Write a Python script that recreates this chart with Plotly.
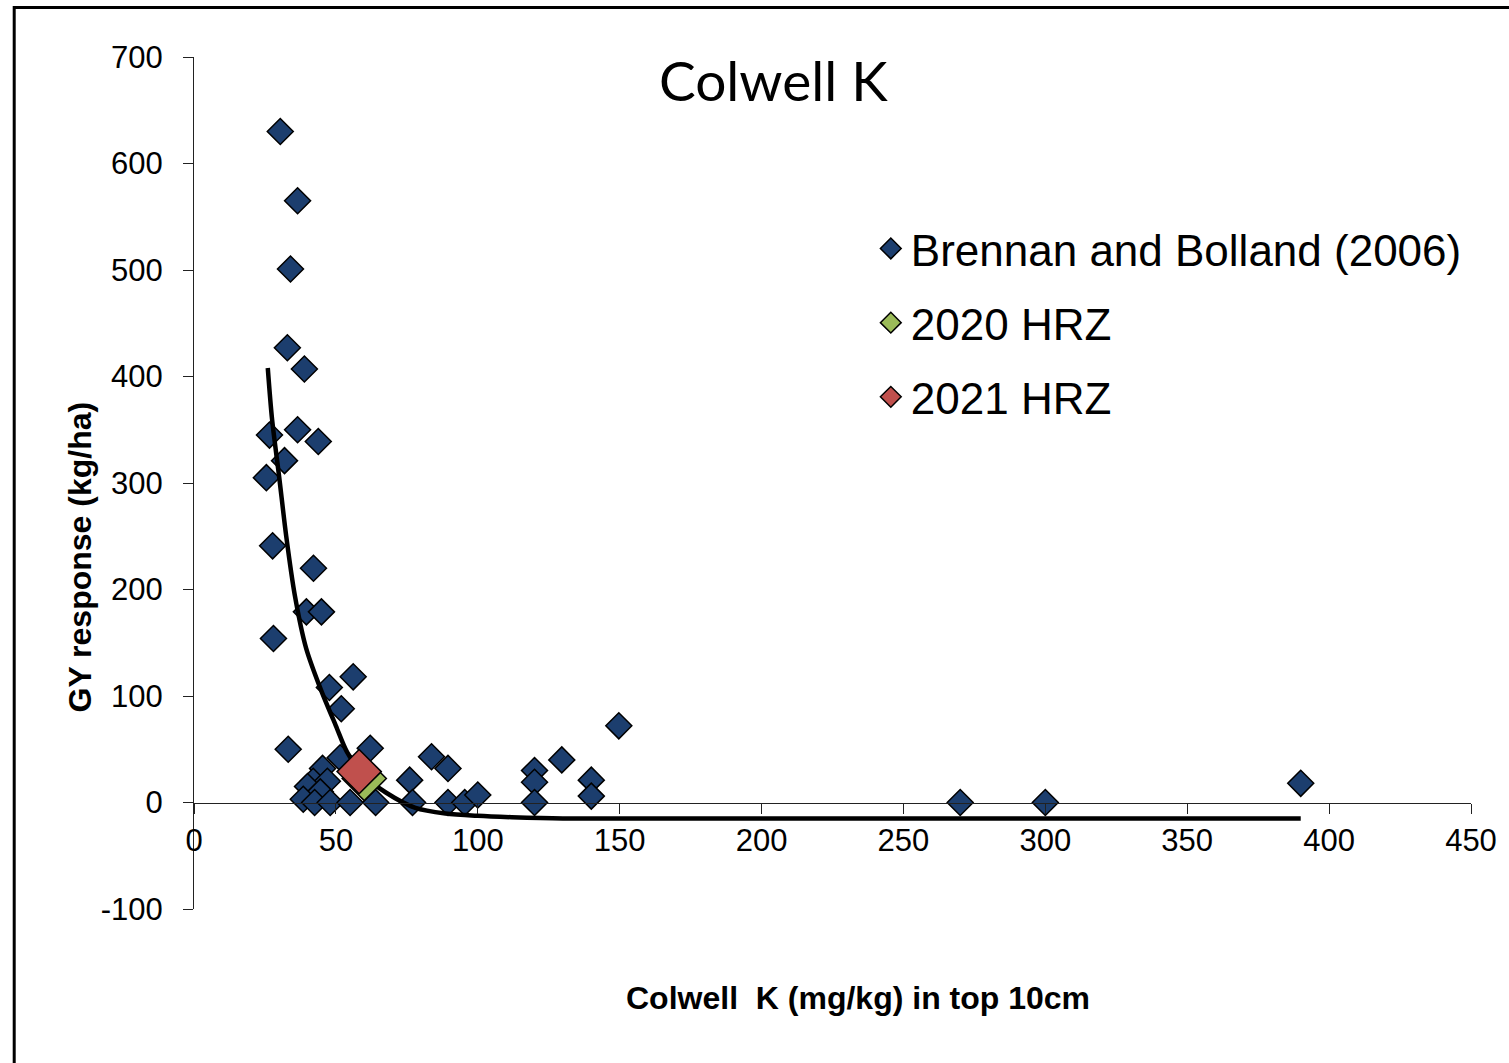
import plotly.graph_objects as go

# Brennan and Bolland (2006) trial responses
colwell_k = [30.4, 36.5, 34.0, 32.9, 38.9, 26.6, 36.5, 43.8, 31.9, 25.5, 27.7, 42.1,
             39.6, 44.9, 28.0, 47.7, 56.1, 51.9, 33.2, 62.1, 51.5, 45.3, 42.0, 47.0,
             40.0, 44.5, 38.5, 42.5, 48.0, 55.0, 64.0, 76.0, 77.0, 83.7, 89.5, 89.5,
             95.4, 100.0, 120.0, 120.0, 120.0, 129.6, 140.0, 140.0, 149.7, 270.0,
             300.0, 390.0]
gy_response = [630, 565, 501, 427, 407, 345, 350, 339, 321, 305, 241, 220,
               179, 179, 154, 108, 118, 88, 50, 51, 42, 32, 20, 20,
               15, 10, 3, 0, 0, 0, 0, 21, 0, 43, 32, 0,
               0, 7, 30, 19, 0, 40, 21, 6, 72, 0,
               0, 18]

# HRZ trial sites
hrz2020_k = [60.0]
hrz2020_gy = [22.5]
hrz2021_k = [58.2]
hrz2021_gy = [29.0]

# Response curve
curve_k = [26, 27.5, 30, 32.5, 35.5, 39.5, 44.7, 50, 54, 60, 67.6, 78, 88.6, 100,
           112, 130, 200, 300, 390]
curve_gy = [408, 360, 306, 250, 195, 145, 106, 72, 47, 25, 9.4, -5, -10.3, -12.5,
            -13.8, -15, -15, -15, -15]

x_ticks = [0, 50, 100, 150, 200, 250, 300, 350, 400, 450]
y_ticks = [-100, 0, 100, 200, 300, 400, 500, 600, 700]
y_tick_labels = ["-100", "0", "100", "200", "300", "400", "500", "600", "700"]

AXIS_FONT = "Liberation Sans, Arial, sans-serif"
NAVY = "#1c3e6e"

fig = go.Figure()

fig.add_trace(go.Scatter(
    x=colwell_k, y=gy_response, mode="markers", name="Brennan and Bolland (2006)",
    legendgroup="a",
    marker=dict(symbol="diamond", size=20, color=NAVY, line=dict(color="black", width=1.5)),
))
fig.add_trace(go.Scatter(
    x=curve_k, y=curve_gy, mode="lines", showlegend=False,
    line=dict(color="black", width=4.5, shape="spline", smoothing=0.8),
))
fig.add_trace(go.Scatter(
    x=hrz2020_k, y=hrz2020_gy, mode="markers", name="2020 HRZ", legendgroup="b",
    marker=dict(symbol="diamond", size=34, color="#9bbb59", line=dict(color="black", width=1.5)),
))
fig.add_trace(go.Scatter(
    x=hrz2021_k, y=hrz2021_gy, mode="markers", name="2021 HRZ", legendgroup="c",
    marker=dict(symbol="diamond", size=34, color="#c0504d", line=dict(color="black", width=1.5)),
))

fig.update_layout(
    width=1509, height=1063,
    margin=dict(l=194, r=33, t=57, b=154),
    paper_bgcolor="white", plot_bgcolor="white",
    font=dict(family=AXIS_FONT, color="black"),
    legend=dict(
        x=0.53, y=0.8165, xanchor="left", yanchor="top",
        font=dict(size=44, family=AXIS_FONT, color="black"),
        tracegroupgap=14, bgcolor="rgba(0,0,0,0)",
    ),
    xaxis=dict(
        range=[0, 450], tickvals=x_ticks, showgrid=False, zeroline=False,
        showline=True, linecolor="#222", linewidth=1.2,
        ticks="outside", ticklen=10, tickcolor="#222",
        tickfont=dict(size=31, family=AXIS_FONT, color="black"),
        anchor="free", position=0.125,
    ),
    yaxis=dict(
        range=[-100, 700], tickvals=y_ticks, ticktext=y_tick_labels,
        showgrid=False, zeroline=False,
        showline=True, linecolor="#222", linewidth=1.2,
        ticks="outside", ticklen=10, tickcolor="#222",
        tickfont=dict(size=31, family=AXIS_FONT, color="black"),
        ticklabelstandoff=14,
    ),
    annotations=[
        dict(text="Colwell K", xref="paper", yref="paper",
             x=(776 - 194) / 1282, y=1 + (57 - 80) / 852, xanchor="center", yanchor="middle",
             showarrow=False, font=dict(size=55, family="Lato, Open Sans, sans-serif", color="black")),
        dict(text="<b>Colwell \u00a0K (mg/kg) in top 10cm</b>", xref="paper", yref="paper",
             x=(861 - 194) / 1282, y=(909 - 998) / 852, xanchor="center", yanchor="middle",
             showarrow=False, font=dict(size=32, family=AXIS_FONT, color="black")),
        dict(text="<b>GY response (kg/ha)</b>", xref="paper", yref="paper",
             x=(80 - 194) / 1282, y=(909 - 557) / 852, xanchor="center", yanchor="middle",
             textangle=-90, showarrow=False, font=dict(size=32, family=AXIS_FONT, color="black")),
    ],
    shapes=[
        dict(type="rect", xref="paper", yref="paper",
             x0=(13.5 - 194) / 1282, x1=(1530 - 194) / 1282,
             y0=(909 - 1080) / 852, y1=1 + (57 - 7.5) / 852,
             line=dict(color="black", width=3), fillcolor="rgba(0,0,0,0)", layer="below"),
    ],
)

fig.write_html("out.html")
